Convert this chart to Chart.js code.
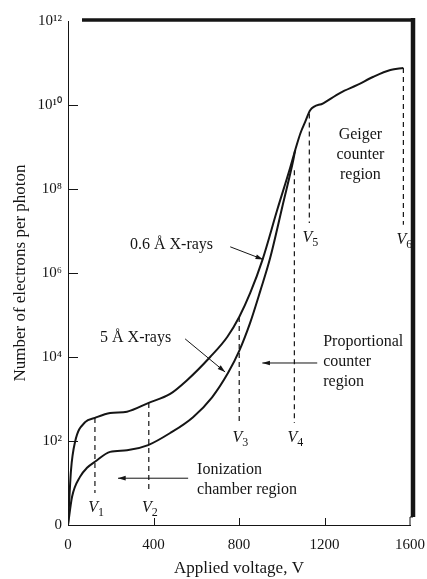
<!DOCTYPE html>
<html>
<head>
<meta charset="utf-8">
<script src="https://cdn.jsdelivr.net/npm/chart.js@4/dist/chart.umd.min.js"></script>
<style>
    body { margin: 0; background: #fff; }
    #wrap { position: relative; width: 427px; height: 579px; }
</style>
</head>
<body>
<div id="wrap"><canvas id="chart"></canvas></div>
<script>
// Applied voltage (V) vs electrons per photon
const upperVolts = [0, 14, 33, 80, 126, 197, 276, 375, 478, 557, 665, 745, 801, 852, 909, 979, 1040, 1063];
const upperCounts = [1, 20, 95, 280, 355, 465, 500, 800, 1320, 2800, 1.0e4, 3.0e4, 9.0e4, 3.3e5, 2.0e6, 3.2e7, 3.3e8, 8.5e8];

const lowerVolts = [0, 19, 56, 89, 126, 197, 276, 375, 478, 585, 674, 749, 801, 852, 900, 946, 1007, 1054, 1063];
const lowerCounts = [1, 4.7, 14, 23, 32, 55, 60, 80, 155, 370, 1100, 4200, 1.4e4, 6.5e4, 3.8e5, 2.3e6, 4.7e7, 4.9e8, 8.5e8];

const geigerVolts = [1063, 1087, 1110, 1133, 1194, 1274, 1354, 1429, 1508, 1569];
const geigerCounts = [8.5e8, 2.1e9, 4.0e9, 7.5e9, 1.1e10, 1.95e10, 3.0e10, 4.7e10, 6.8e10, 7.6e10];

// dashed region boundaries V1..V6
const markerVolts = [126, 378, 801, 1059, 1129, 1569];
const markerTops = [355, 800, 9.0e4, 2.8e8, 6.3e9, 7.6e10];
const markerBottoms = [5.8, 5.8, 270, 270, 1.55e7, 1.4e7];
const markerNames = ["1", "2", "3", "4", "5", "6"];

// axes
const xTickValues = [0, 400, 800, 1200, 1600];
const yTickValues = [1, 1e2, 1e4, 1e6, 1e8, 1e10, 1e12];
const yTickLabels = ["0", "10²", "10⁴", "10⁶", "10⁸", "10¹⁰", "10¹²"];

const serif = "'Liberation Serif', 'Times New Roman', serif";
const ink = "#151515";

const toPoints = (xs, ys) => xs.map((v, i) => ({ x: v, y: ys[i] }));

const curve = (data) => ({
    data: data,
    borderColor: ink,
    borderWidth: 2,
    pointRadius: 0,
    fill: false,
    cubicInterpolationMode: "monotone",
});

const datasets = [
    curve(toPoints(upperVolts, upperCounts)),
    curve(toPoints(lowerVolts, lowerCounts)),
    curve(toPoints(geigerVolts, geigerCounts)),
];
markerVolts.forEach((v, i) => {
    datasets.push({
        data: [{ x: v, y: markerTops[i] }, { x: v, y: markerBottoms[i] }],
        borderColor: ink,
        borderWidth: 1.2,
        borderDash: [5, 4],
        pointRadius: 0,
        fill: false,
    });
});

// text labels and arrows, placed in data units
const notes = [
    { lines: ["0.6 Å X-rays"], v: 290, n: 4.7e6, align: "left" },
    { lines: ["5 Å X-rays"], v: 150, n: 2.8e4, align: "left" },
    { lines: ["Proportional", "counter", "region"], v: 1194, n: 2.3e4, align: "left" },
    { lines: ["Ionization", "chamber region"], v: 604, n: 21, align: "left" },
    { lines: ["Geiger", "counter", "region"], v: 1368, n: 1.95e9, align: "center" },
];
const arrows = [
    { from: [759, 4.2e6], to: [913, 2.1e6] },
    { from: [548, 2.7e4], to: [735, 4.4e3] },
    { from: [1166, 7.2e3], to: [909, 7.2e3] },
    { from: [562, 13], to: [234, 13] },
];

const annotate = {
    id: "annotate",
    afterDatasetsDraw(chart) {
        const { ctx, chartArea: a, scales: { x, y } } = chart;
        ctx.save();
        ctx.strokeStyle = ink;
        ctx.fillStyle = ink;

        // heavy frame on top and right
        ctx.lineWidth = 3.5;
        ctx.beginPath();
        ctx.moveTo(a.left + 14, a.top - 1);
        ctx.lineTo(a.right + 5, a.top - 1);
        ctx.stroke();
        ctx.lineWidth = 4.5;
        ctx.beginPath();
        ctx.moveTo(a.right + 3, a.top - 3);
        ctx.lineTo(a.right + 3, a.bottom - 8);
        ctx.stroke();
        ctx.lineWidth = 1;
        ctx.beginPath();
        ctx.moveTo(a.right, a.bottom);
        ctx.lineTo(a.right, a.bottom - 8);
        ctx.lineTo(a.right + 3, a.bottom - 8);
        ctx.stroke();

        // inward tick marks
        ctx.lineWidth = 1;
        yTickValues.slice(1, -1).forEach((v) => {
            const py = Math.round(y.getPixelForValue(v)) + 0.5;
            ctx.beginPath();
            ctx.moveTo(a.left, py);
            ctx.lineTo(a.left + 10, py);
            ctx.stroke();
        });
        xTickValues.slice(1, -1).forEach((v) => {
            const px = Math.round(x.getPixelForValue(v)) + 0.5;
            ctx.beginPath();
            ctx.moveTo(px, a.bottom);
            ctx.lineTo(px, a.bottom - 7);
            ctx.stroke();
        });

        // notes
        ctx.font = "16px " + serif;
        ctx.textBaseline = "middle";
        notes.forEach((note) => {
            ctx.textAlign = note.align;
            const px = x.getPixelForValue(note.v);
            const py = y.getPixelForValue(note.n);
            note.lines.forEach((line, i) => ctx.fillText(line, px, py + i * 20));
        });

        // arrows
        arrows.forEach((ar) => {
            const x0 = x.getPixelForValue(ar.from[0]);
            const y0 = y.getPixelForValue(ar.from[1]);
            const x1 = x.getPixelForValue(ar.to[0]);
            const y1 = y.getPixelForValue(ar.to[1]);
            const ang = Math.atan2(y1 - y0, x1 - x0);
            ctx.lineWidth = 1;
            ctx.beginPath();
            ctx.moveTo(x0, y0);
            ctx.lineTo(x1, y1);
            ctx.stroke();
            ctx.beginPath();
            ctx.moveTo(x1, y1);
            ctx.lineTo(x1 - 8 * Math.cos(ang - 0.3), y1 - 8 * Math.sin(ang - 0.3));
            ctx.lineTo(x1 - 8 * Math.cos(ang + 0.3), y1 - 8 * Math.sin(ang + 0.3));
            ctx.closePath();
            ctx.fill();
        });

        // V1..V6 labels under the dashed lines
        markerVolts.forEach((v, i) => {
            const px = x.getPixelForValue(v);
            const py = y.getPixelForValue(markerBottoms[i]) + 15;
            ctx.textAlign = "right";
            ctx.font = "italic 16px " + serif;
            ctx.fillText("V", px + 3, py);
            ctx.textAlign = "left";
            ctx.font = "12px " + serif;
            ctx.fillText(markerNames[i], px + 3, py + 5);
        });
        ctx.restore();
    },
};

new Chart(document.getElementById("chart"), {
    type: "line",
    data: { datasets: datasets },
    options: {
        responsive: true,
        maintainAspectRatio: false,
        animation: false,
        layout: { padding: { left: 10, right: 17, top: 21, bottom: 0 } },
        plugins: {
            legend: { display: false },
            tooltip: { enabled: false },
        },
        scales: {
            x: {
                type: "linear",
                min: 0,
                max: 1600,
                afterBuildTicks: (scale) => {
                    scale.ticks = xTickValues.map((v) => ({ value: v }));
                },
                afterFit: (scale) => {
                    scale.height = 54;
                    scale.paddingLeft = 0;
                    scale.paddingRight = 0;
                },
                grid: { display: false, drawTicks: false },
                border: { display: true, color: ink, width: 1 },
                ticks: {
                    color: ink,
                    padding: 11,
                    maxRotation: 0,
                    font: { family: serif, size: 15 },
                    callback: (value) => String(value),
                },
                title: {
                    display: true,
                    text: "Applied voltage, V",
                    color: ink,
                    padding: { top: 0, bottom: 0 },
                    font: { family: serif, size: 17 },
                },
            },
            y: {
                type: "logarithmic",
                min: 1,
                max: 1e12,
                afterBuildTicks: (scale) => {
                    scale.ticks = yTickValues.map((v) => ({ value: v }));
                },
                afterFit: (scale) => {
                    scale.width = 58;
                    scale.paddingTop = 0;
                    scale.paddingBottom = 0;
                },
                grid: { display: false, drawTicks: false },
                border: { display: true, color: ink, width: 1 },
                ticks: {
                    color: ink,
                    padding: 6,
                    font: { family: serif, size: 15 },
                    callback: (value) => yTickLabels[yTickValues.indexOf(value)],
                },
                title: {
                    display: true,
                    text: "Number of electrons per photon",
                    color: ink,
                    padding: { top: 0, bottom: 0 },
                    font: { family: serif, size: 17 },
                },
            },
        },
    },
    plugins: [annotate],
});
</script>
</body>
</html>
